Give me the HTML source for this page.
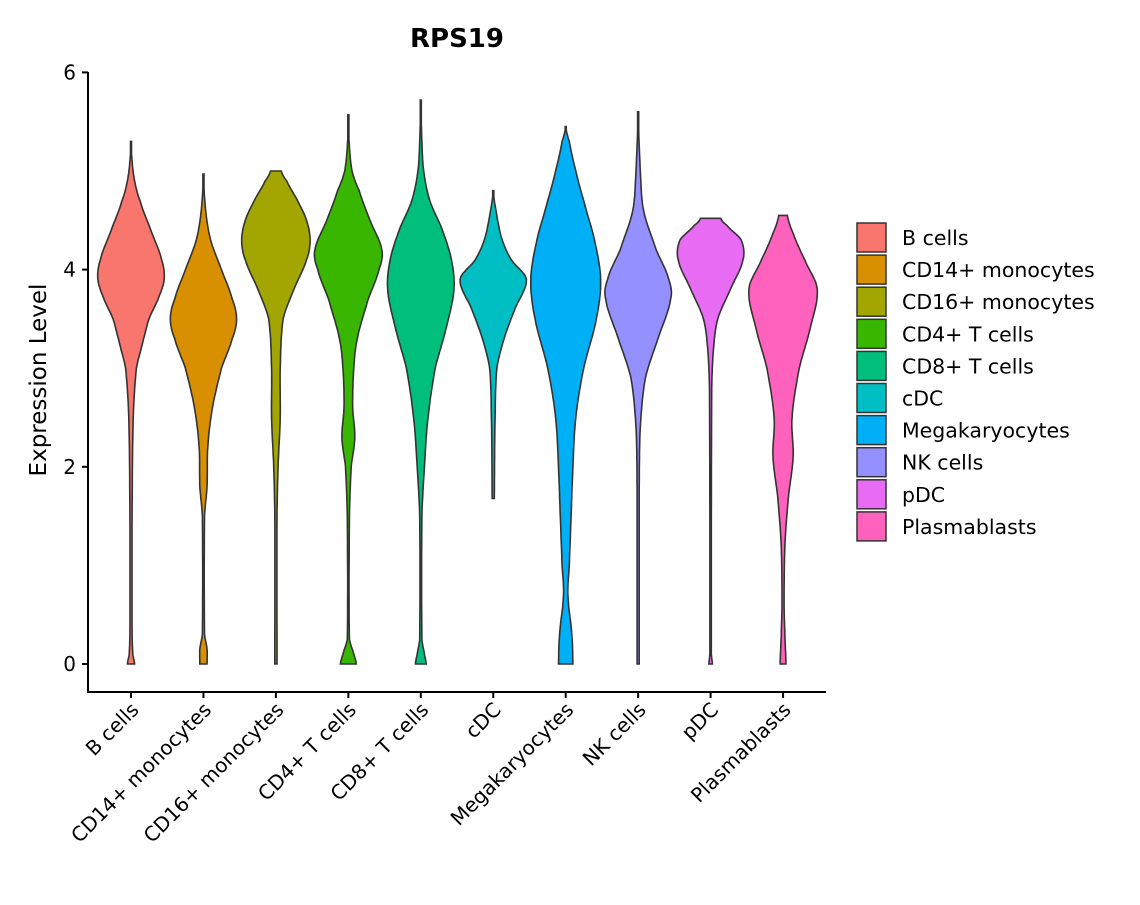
<!DOCTYPE html>
<html><head><meta charset="utf-8"><style>
body{margin:0;background:#fff;}
svg text{font-family:"DejaVu Sans","Liberation Sans",sans-serif;fill:#000;}
</style></head><body>
<svg id="chart" width="1140" height="900" viewBox="0 0 1140 900" xmlns="http://www.w3.org/2000/svg">
<text x="457" y="47" text-anchor="middle" font-size="26" font-weight="bold">RPS19</text>
<text transform="translate(46,380) rotate(-90)" text-anchor="middle" font-size="23">Expression Level</text>
<g id="violins"></g>
<g id="axes"></g>
<g id="legend"></g>
</svg>
<script>
const categories=["B cells","CD14+ monocytes","CD16+ monocytes","CD4+ T cells","CD8+ T cells","cDC","Megakaryocytes","NK cells","pDC","Plasmablasts"];
const colors=["#F8766D","#D89000","#A3A500","#39B600","#00BF7D","#00BFC4","#00B0F6","#9590FF","#E76BF3","#FF62BC"];
const yTicks=[0,2,4,6];
const dB=[[0,0.1],[0.1,0.05],[0.3,0.03],[1.5,0.03],[2.5,0.06],[3,0.15],[3.3,0.35],[3.5,0.5],[3.7,0.75],[3.9,0.92],[4.1,0.85],[4.4,0.55],[4.7,0.25],[4.9,0.1],[5.1,0.03],[5.3,0]];
const dCD14=[[0,0.1],[0.15,0.1],[0.3,0.03],[1.5,0.03],[1.8,0.1],[2.2,0.12],[2.6,0.25],[3,0.5],[3.3,0.8],[3.5,0.92],[3.7,0.8],[4,0.5],[4.3,0.2],[4.6,0.06],[4.97,0]];
const dCD16=[[0,0.03],[1.5,0.03],[2,0.06],[2.5,0.12],[3,0.12],[3.5,0.2],[3.8,0.5],[4.1,0.85],[4.3,0.95],[4.5,0.85],[4.7,0.6],[4.9,0.3],[5.0,0.15]];
const dCD4=[[0,0.22],[0.1,0.15],[0.25,0.03],[1.5,0.03],[2,0.08],[2.3,0.18],[2.6,0.12],[3,0.15],[3.3,0.25],[3.7,0.55],[4,0.85],[4.2,0.93],[4.5,0.6],[4.8,0.3],[5,0.1],[5.3,0.02],[5.57,0]];
const dCD8=[[0,0.15],[0.1,0.1],[0.25,0.03],[1.5,0.03],[2,0.1],[2.5,0.2],[3,0.4],[3.4,0.7],[3.8,0.92],[4.1,0.85],[4.4,0.6],[4.7,0.25],[5,0.08],[5.3,0.03],[5.72,0]];
const dcDC=[[1.68,0.03],[2.5,0.05],[3,0.1],[3.3,0.3],[3.6,0.6],[3.9,0.92],[4.1,0.5],[4.3,0.25],[4.5,0.12],[4.8,0]];
const dMega=[[0,0.2],[0.3,0.17],[0.7,0.06],[1,0.1],[1.5,0.15],[2,0.2],[2.5,0.28],[3,0.5],[3.5,0.85],[3.9,0.97],[4.3,0.8],[4.7,0.5],[5.0,0.28],[5.3,0.1],[5.45,0]];
const dNK=[[0,0.03],[1.8,0.03],[2.4,0.06],[2.9,0.2],[3.3,0.55],[3.7,0.9],[3.9,0.85],[4.2,0.5],[4.6,0.15],[5,0.06],[5.6,0]];
const dpDC=[[0,0.05],[0.1,0.02],[2.8,0.03],[3.2,0.08],[3.5,0.2],[3.8,0.55],[4.1,0.9],[4.3,0.85],[4.45,0.45],[4.52,0.28]];
const dPlasma=[[0,0.08],[0.3,0.05],[0.6,0.03],[1.2,0.05],[1.7,0.15],[2.1,0.28],[2.5,0.25],[3,0.45],[3.4,0.75],[3.8,0.95],[4.1,0.6],[4.35,0.3],[4.55,0.12]];
const densities=[dB,dCD14,dCD16,dCD4,dCD8,dcDC,dMega,dNK,dpDC,dPlasma];

const NS="http://www.w3.org/2000/svg";
const x0=131, xStep=72.45, halfMax=36;
const yScale=v=>664-v*98.6;
const xScale=i=>x0+i*xStep;
function mk(tag,attrs,parent){const e=document.createElementNS(NS,tag);for(const k in attrs)e.setAttribute(k,attrs[k]);parent.appendChild(e);return e;}
function sample(k){
  const pts=[];
  for(let i=0;i<k.length-1;i++){
    const p0=k[Math.max(0,i-1)],p1=k[i],p2=k[i+1],p3=k[Math.min(k.length-1,i+2)];
    for(let t=0;t<1;t+=0.1){
      const t2=t*t,t3=t2*t;
      const f=(a,b,c,d)=>0.5*((2*b)+(-a+c)*t+(2*a-5*b+4*c-d)*t2+(-a+3*b-3*c+d)*t3);
      pts.push([p1[0]+(p2[0]-p1[0])*t,Math.max(0.015,Math.min(1,f(p0[1],p1[1],p2[1],p3[1])))]);
    }
  }
  const l=k[k.length-1];pts.push([l[0],Math.max(0.015,l[1])]);
  return pts;
}
const vg=document.getElementById('violins');
densities.forEach((d,i)=>{
  const cx=xScale(i),pts=sample(d);
  const right=pts.map(p=>[cx+p[1]*halfMax,yScale(p[0])]);
  const left=pts.slice().reverse().map(p=>[cx-p[1]*halfMax,yScale(p[0])]);
  const all=right.concat(left);
  const p=mk('path',{d:'M'+all.map(q=>q[0].toFixed(1)+','+q[1].toFixed(1)).join('L')+'Z',fill:colors[i],stroke:'#333','stroke-width':1.6},vg);
  
  
});
const ag=document.getElementById('axes');
const ya=mk('line',{x1:88,y1:72,x2:88,y2:693,stroke:'#000','stroke-width':2},ag);


const xa=mk('line',{x1:87,y1:692,x2:826,y2:692,stroke:'#000','stroke-width':2},ag);


yTicks.forEach(v=>{
  const y=yScale(v);
  const t=mk('line',{x1:82,y1:y,x2:88,y2:y,stroke:'#000','stroke-width':2},ag);
  
  
  const l=mk('text',{x:76,y:y+7,'text-anchor':'end','font-size':20},ag);
  l.textContent=v;
  
  
});
categories.forEach((c,i)=>{
  const x=xScale(i);
  const t=mk('line',{x1:x,y1:692,x2:x,y2:698,stroke:'#000','stroke-width':2},ag);
  
  
  const l=mk('text',{transform:`translate(${x+9},${711}) rotate(-45)`,'text-anchor':'end','font-size':20},ag);
  l.textContent=c;
  
  
});
const lg=document.getElementById('legend');
categories.forEach((c,i)=>{
  const y=223+i*32.1;
  const r=mk('rect',{x:857,y:y,width:29,height:29,fill:colors[i],stroke:'#333','stroke-width':1.5},lg);
  
  
  const t=mk('text',{x:902,y:y+22,'font-size':20.5},lg);
  t.textContent=c;
  
  
});
</script>
</body></html>
